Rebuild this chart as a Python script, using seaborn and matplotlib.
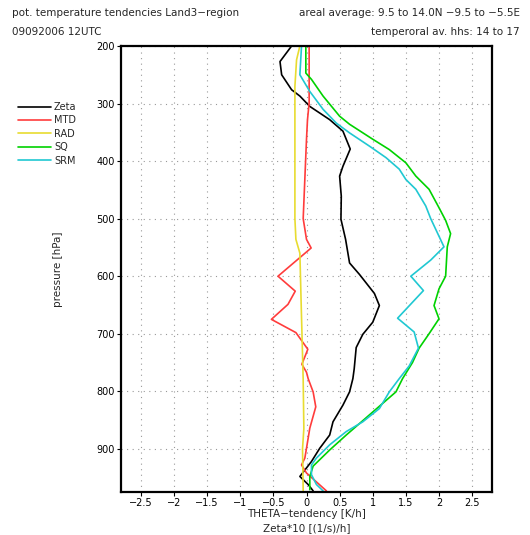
import numpy as np
import pandas as pd
import matplotlib
matplotlib.use("Agg")
import matplotlib.pyplot as plt
import seaborn as sns

# ---- data ----
zeta_p = [200, 227, 250, 276, 287, 305, 328, 348, 379, 409, 426, 461, 501, 536, 577, 597,
          630, 651, 680, 701, 724, 761, 778, 801, 824, 853, 876, 899, 922, 948, 962, 973]
zeta_x = [-0.225, -0.4, -0.375, -0.225, -0.1, 0.05, 0.35, 0.55, 0.66, 0.55, 0.5, 0.525, 0.52, 0.59, 0.65, 0.8,
          1.025, 1.1, 1.0, 0.85, 0.75, 0.72, 0.7, 0.65, 0.55, 0.4, 0.35, 0.2, 0.075, -0.1, 0.025, 0.1]

mtd_p = [200, 299, 328, 362, 500, 536, 551, 600, 626, 649, 675, 698, 727, 753, 767, 778,
         801, 827, 864, 899, 916, 928, 942, 973]
mtd_x = [0.04, 0.04, 0.015, 0.0, -0.05, 0.0, 0.07, -0.43, -0.17, -0.28, -0.53, -0.16, 0.02, -0.07, 0.0, 0.025,
         0.1, 0.14, 0.05, 0.0, -0.025, -0.075, 0.0, 0.3]

rad_p = [200, 224, 270, 500, 536, 560, 650, 780, 865, 900, 973]
rad_x = [-0.1, -0.15, -0.175, -0.175, -0.16, -0.1, -0.08, -0.05, -0.04, -0.06, -0.05]

sq_p = [200, 247, 258, 287, 322, 336, 362, 380, 403, 426, 449, 481, 503, 526, 549, 600, 622, 651, 674,
        700, 725, 750, 778, 801, 836, 876, 902, 930, 948, 971]
sq_x = [-0.01, -0.01, 0.075, 0.25, 0.5, 0.65, 1.0, 1.25, 1.5, 1.65, 1.85, 2.0, 2.1, 2.175, 2.125, 2.1, 2.0, 1.925, 2.0,
        1.85, 1.7, 1.6, 1.45, 1.35, 1.0, 0.6, 0.35, 0.1, 0.05, 0.05]

srm_p = [200, 250, 279, 310, 334, 351, 374, 394, 414, 432, 449, 478, 500, 549, 572, 600, 625,
         673, 697, 725, 756, 778, 801, 830, 853, 870, 893, 916, 928, 945, 962, 973]
srm_x = [-0.075, -0.1, 0.05, 0.25, 0.45, 0.65, 0.95, 1.2, 1.4, 1.5, 1.65, 1.8, 1.875, 2.075, 1.875, 1.575, 1.765,
         1.375, 1.625, 1.69, 1.55, 1.4, 1.25, 1.1, 0.85, 0.6, 0.35, 0.15, 0.075, 0.075, 0.15, 0.25]

series_names = ["Zeta", "MTD", "RAD", "SQ", "SRM"]
series_colors = ["#000000", "#ff3c3c", "#e8dc30", "#00d200", "#20c8d2"]

x_ticks = [-2.5, -2, -1.5, -1, -0.5, 0, 0.5, 1, 1.5, 2, 2.5]
x_tick_labels = ["\u22122.5", "\u22122", "\u22121.5", "\u22121", "\u22120.5", "0", "0.5", "1", "1.5", "2", "2.5"]
y_ticks = [200, 300, 400, 500, 600, 700, 800, 900]

# ---- build long table ----
frames = []
for name, p, x in zip(series_names,
                      [zeta_p, mtd_p, rad_p, sq_p, srm_p],
                      [zeta_x, mtd_x, rad_x, sq_x, srm_x]):
    frames.append(pd.DataFrame({"series": name, "pressure": p, "value": x}))
df = pd.concat(frames, ignore_index=True)

sns.set_style("white")
plt.rcParams["font.family"] = ["DejaVu Sans"]

fig = plt.figure(figsize=(5.3, 5.35), dpi=100)
ax = fig.add_axes([121 / 530, 1 - 492 / 535, (492 - 121) / 530, (492 - 46) / 535])

sns.lineplot(data=df, x="value", y="pressure", hue="series", hue_order=series_names,
             palette=dict(zip(series_names, series_colors)), estimator=None,
             sort=True, orient="y", linewidth=1.2, ax=ax)

ax.set_xlim(-2.8, 2.8)
ax.set_ylim(975, 200)
ax.set_xticks(x_ticks)
ax.set_xticklabels(x_tick_labels)
ax.set_yticks(y_ticks)
ax.tick_params(axis="both", labelsize=7, length=3, width=0.8, direction="out", pad=1.5,
               bottom=True, left=True, colors="black")
ax.grid(True, linestyle=(0, (1, 4)), color="#999999", linewidth=0.8)
for s in ax.spines.values():
    s.set_color("black")
    s.set_linewidth(1.6)
ax.set_xlabel("")
ax.set_ylabel("pressure [hPa]", fontsize=7.5, labelpad=24)

handles, labels = ax.get_legend_handles_labels()
ax.get_legend().remove()
fig.legend(handles, labels, loc="upper left", bbox_to_anchor=(18 / 530, 1 - 102 / 535),
           frameon=False, fontsize=7, handlelength=3.4, handletextpad=0.3,
           labelspacing=0.35, borderaxespad=0, borderpad=0)

fig.text(0.5 * (121 + 492) / 530, 1 - 514 / 535, "THETA\u2212tendency [K/h]", ha="center",
         va="center", fontsize=7.5)
fig.text(0.5 * (121 + 492) / 530, 1 - 528 / 535, "Zeta*10 [(1/s)/h]", ha="center",
         va="center", fontsize=7.5)

fig.text(12 / 530, 1 - 13 / 535, "pot. temperature tendencies Land3\u2212region",
         ha="left", va="center", fontsize=7.5)
fig.text(520 / 530, 1 - 13 / 535, "areal average: 9.5 to 14.0N \u22129.5 to \u22125.5E",
         ha="right", va="center", fontsize=7.5)
fig.text(12 / 530, 1 - 32 / 535, "09092006 12UTC", ha="left", va="center", fontsize=7.5)
fig.text(520 / 530, 1 - 32 / 535, "temperoral av. hhs: 14 to 17", ha="right",
         va="center", fontsize=7.5)

fig.savefig("out.png", dpi=100)
